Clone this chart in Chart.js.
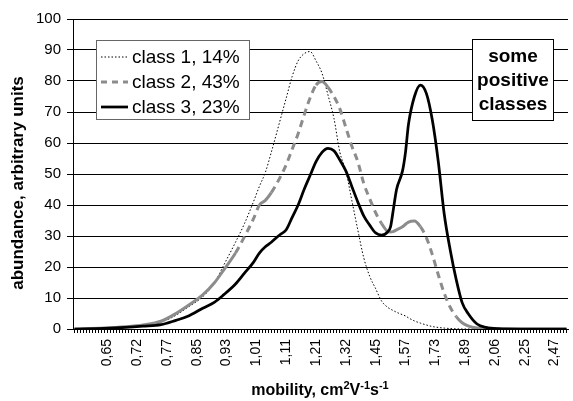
<!DOCTYPE html>
<html><head><meta charset="utf-8">
<script src="https://cdn.jsdelivr.net/npm/chart.js@4.4.0/dist/chart.umd.min.js"></script>
<style>html,body{margin:0;padding:0;background:#fff;} #wrap{width:573px;height:401px;position:relative;}</style>
</head><body><div id="wrap"><canvas id="c"></canvas></div>
<script>
// ---- data ----
const tickLabels = ['0,65','0,72','0,77','0,85','0,93','1,01','1,11','1,21','1,32','1,45','1,57','1,73','1,89','2,06','2,25','2,47'];
const firstLabelIndex = 11;
const labelStep = 10;
const categoryCount = 166;
const seriesNames = ['class 1, 14%', 'class 2, 43%', 'class 3, 23%'];
const sampleIdx = [0,10,17,23,29,34,38,43,47,50, 54,57,60,62,64,66,69,71,73,75, 77,79,81,83,85,87,89,91,93,95, 97,99,101,103,105,106,107,108,110,111, 112,114,116,118,120,122,124,126,128,130, 132,135,138,142,150,165];
const class1 = [0,0.2,0.5,1.1,2.2,4.4,7,10.4,15,20.5, 28,34,41,46,50.5,57,67.5,74.5,81.5,86.5, 88.8,89.5,86.5,82.5,75.5,68,57,51,41.5,32, 23,17,13,9,7,6.4,5.9,5.4,4.6,4.2, 3.6,2.6,1.9,1.3,0.8,0.5,0.3,0.15,0.05,0, 0,0,0,0,0,0];
const class2 = [0,0.3,0.7,1.3,2.5,5,7.5,11,15,19, 24.5,29.8,35.5,40,41.5,44,49,53,58,63, 69,74.5,78.7,79.8,78,75,71,65,59,54, 47,42,37.5,34,31.5,31.3,31.5,32,33,33.8, 34.5,34.8,33,29.5,24,17.5,11.5,7,4,2, 1,0.3,0.1,0,0,0];
const class3 = [0,0.2,0.5,0.9,1.4,2.8,4.1,6.7,8.7,11, 14.5,18,21.5,24.5,26.5,28,30.5,32,36,40, 45,49.5,54,57,58.3,57.5,54.5,51,46,41, 36.5,33.5,31,30.3,31.3,33,39,45,51,57, 66,75,78.7,76,67.4,54,37,25.5,16,8.5, 5,1.6,0.5,0.1,0,0];
const yTitle = 'abundance, arbitrary units';
const xTitleParts = [['mobility, cm',0],['2',1],['V',0],['-1',1],['s',0],['-1',1]];
const noteLines = ['some','positive','classes'];

const FONT = "'Liberation Sans', Arial, sans-serif";
const toPts = arr => sampleIdx.map((x, i) => ({x, y: arr[i]}));

const overlay = {
  id: 'overlay',
  afterDraw(chart) {
    const ctx = chart.ctx;
    ctx.save();
    ctx.fillStyle = '#000';
    ctx.font = 'bold 17px ' + FONT;
    ctx.textAlign = 'center'; ctx.textBaseline = 'middle';
    ctx.translate(18, 183); ctx.rotate(-Math.PI/2);
    ctx.fillText(yTitle, 0, 0);
    ctx.setTransform(1,0,0,1,0,0);
    const base = 'bold 16px ' + FONT, sup = 'bold 11px ' + FONT;
    let total = 0;
    xTitleParts.forEach(([t, s]) => { ctx.font = s ? sup : base; total += ctx.measureText(t).width; });
    let x = 320 - total/2;
    ctx.textAlign = 'left'; ctx.textBaseline = 'alphabetic';
    xTitleParts.forEach(([t, s]) => { ctx.font = s ? sup : base; ctx.fillText(t, x, s ? 389 : 395); x += ctx.measureText(t).width; });
    ctx.restore();
  },
  afterDatasetsDraw(chart) {
    const ctx = chart.ctx;
    ctx.save();
    ctx.fillStyle = '#fff'; ctx.strokeStyle = '#666'; ctx.lineWidth = 1;
    ctx.fillRect(96.5, 40.5, 153, 79); ctx.strokeRect(96.5, 40.5, 153, 79);
    chart.data.datasets.forEach((ds, i) => {
      const y = 57 + i*25;
      ctx.strokeStyle = ds.borderColor; ctx.lineWidth = ds.borderWidth;
      ctx.setLineDash(ds.legendDash);
      ctx.beginPath(); ctx.moveTo(101, y); ctx.lineTo(128, y); ctx.stroke();
      ctx.setLineDash([]);
      ctx.fillStyle = '#000'; ctx.font = '19px ' + FONT;
      ctx.textAlign = 'left'; ctx.textBaseline = 'middle';
      ctx.fillText(ds.label, 132, y + 1);
    });
    ctx.fillStyle = '#fff'; ctx.strokeStyle = '#000'; ctx.lineWidth = 1;
    ctx.fillRect(472.5, 39.5, 81, 81); ctx.strokeRect(472.5, 39.5, 81, 81);
    ctx.fillStyle = '#000'; ctx.font = 'bold 19px ' + FONT;
    ctx.textAlign = 'center'; ctx.textBaseline = 'middle';
    noteLines.forEach((t, i) => ctx.fillText(t, 513, 57 + i*24));
    ctx.restore();
  }
};

new Chart(document.getElementById('c'), {
  type: 'line',
  data: {
    datasets: [
      { label: seriesNames[0], data: toPts(class1), borderColor: '#000', borderWidth: 1, borderDash: [1.5, 2], legendDash: [1.5, 2], order: 2 },
      { label: seriesNames[1], data: toPts(class2), borderColor: '#8c8c8c', borderWidth: 3, legendDash: [6, 5], order: 1,
        segment: { borderDash: c => Math.abs(c.p1.y - c.p0.y) > 1.5 * Math.abs(c.p1.x - c.p0.x) ? [7, 5] : [] } },
      { label: seriesNames[2], data: toPts(class3), borderColor: '#000', borderWidth: 2.75, legendDash: [], order: 0 }
    ]
  },
  options: {
    responsive: true, maintainAspectRatio: false, animation: false, devicePixelRatio: 1,
    layout: { padding: { top: 19, right: 5, left: 0, bottom: 0 } },
    elements: { point: { radius: 0 }, line: { cubicInterpolationMode: 'monotone', fill: false } },
    plugins: { legend: { display: false }, tooltip: { enabled: false } },
    scales: {
      x: {
        type: 'linear', min: -0.5, max: categoryCount - 0.5,
        afterBuildTicks: s => { s.ticks = Array.from({length: categoryCount}, (_, i) => ({value: i})); },
        afterFit: s => { s.height = 72; s.paddingLeft = 0; s.paddingRight = 0; },
        grid: { drawOnChartArea: false, drawTicks: true, tickLength: 4, color: '#000', lineWidth: 1 },
        border: { color: '#000', width: 1 },
        ticks: {
          autoSkip: false, minRotation: 90, maxRotation: 90, padding: 6, color: '#000',
          font: { family: FONT, size: 14 },
          callback: v => { const k = (v - firstLabelIndex) / labelStep; return (Number.isInteger(k) && k >= 0 && k < tickLabels.length) ? tickLabels[k] : ''; }
        }
      },
      y: {
        min: 0, max: 100,
        afterFit: s => { s.width = 73; },
        grid: { color: '#000', lineWidth: 1, tickLength: 6 },
        border: { color: '#000', width: 1 },
        ticks: { stepSize: 10, padding: 6, color: '#000', font: { family: FONT, size: 15 } }
      }
    }
  },
  plugins: [overlay]
});
</script></body></html>
